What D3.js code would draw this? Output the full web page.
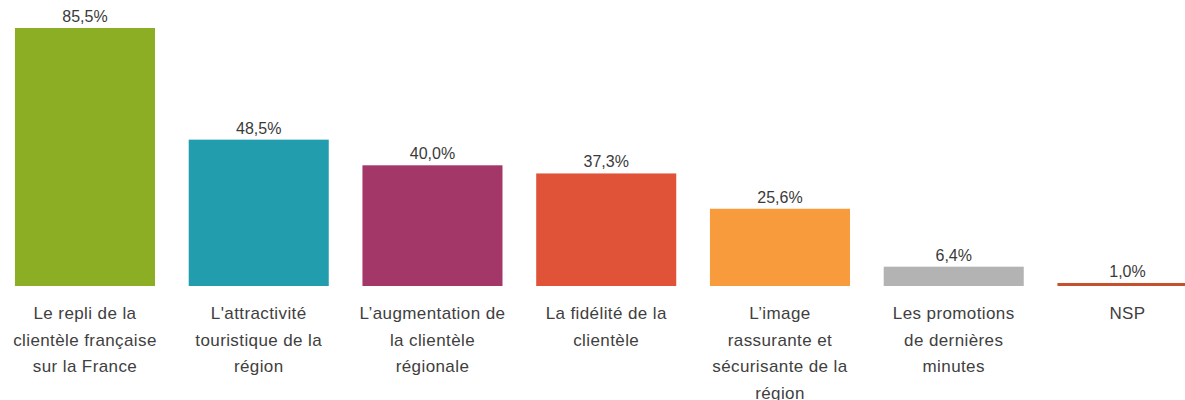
<html>
<head>
<meta charset="utf-8">
<script src="https://d3js.org/d3.v7.min.js"></script>
<style>
body { margin: 0; background: #fff; overflow: hidden; }
text { font-family: "Liberation Sans", Arial, sans-serif; }
</style>
</head>
<body>
<svg id="chart" width="1185" height="400"></svg>
<script>
// values
var categories = [
  ["Le repli de la", "clientèle française", "sur la France"],
  ["L'attractivité", "touristique de la", "région"],
  ["L’augmentation de", "la clientèle", "régionale"],
  ["La fidélité de la", "clientèle"],
  ["L’image", "rassurante et", "sécurisante de la", "région"],
  ["Les promotions", "de dernières", "minutes"],
  ["NSP"]
];
var values = [85.5, 48.5, 40.0, 37.3, 25.6, 6.4, 1.0];
var valueLabels = ["85,5%", "48,5%", "40,0%", "37,3%", "25,6%", "6,4%", "1,0%"];
var colors = ["#8cae25", "#229dae", "#a33868", "#e05339", "#f89b3d", "#b3b3b3", "#c4502d"];

var baseline = 286;
var idx = d3.range(values.length);

var x = d3.scaleBand()
  .domain(idx)
  .range([-1.9, -1.9 + 7 * 173.75])
  .paddingInner(0.194)
  .paddingOuter(0.097);

var y = d3.scaleLinear()
  .domain([0, 85.5])
  .range([baseline, 28]);

var svg = d3.select("#chart");

var g = svg.selectAll("g.bar")
  .data(idx)
  .enter()
  .append("g")
  .attr("class", "bar");

g.append("rect")
  .attr("x", function(i) { return x(i); })
  .attr("y", function(i) { return y(values[i]); })
  .attr("width", x.bandwidth())
  .attr("height", function(i) { return baseline - y(values[i]); })
  .attr("fill", function(i) { return colors[i]; });

g.append("text")
  .attr("x", function(i) { return x(i) + x.bandwidth() / 2; })
  .attr("y", function(i) { return y(values[i]) - 6; })
  .attr("text-anchor", "middle")
  .attr("font-size", "16px")
  .attr("fill", "#3a3a3a")
  .text(function(i) { return valueLabels[i]; });

var lbl = g.append("text")
  .attr("text-anchor", "middle")
  .attr("font-size", "17px")
  .attr("letter-spacing", "0.4px")
  .attr("fill", "#404040");

lbl.selectAll("tspan")
  .data(function(i) { return categories[i].map(function(s) { return { i: i, s: s }; }); })
  .enter()
  .append("tspan")
  .attr("x", function(d) { return x(d.i) + x.bandwidth() / 2; })
  .attr("y", function(d, j) { return 319 + j * 26.5; })
  .text(function(d) { return d.s; });
</script>
</body>
</html>
